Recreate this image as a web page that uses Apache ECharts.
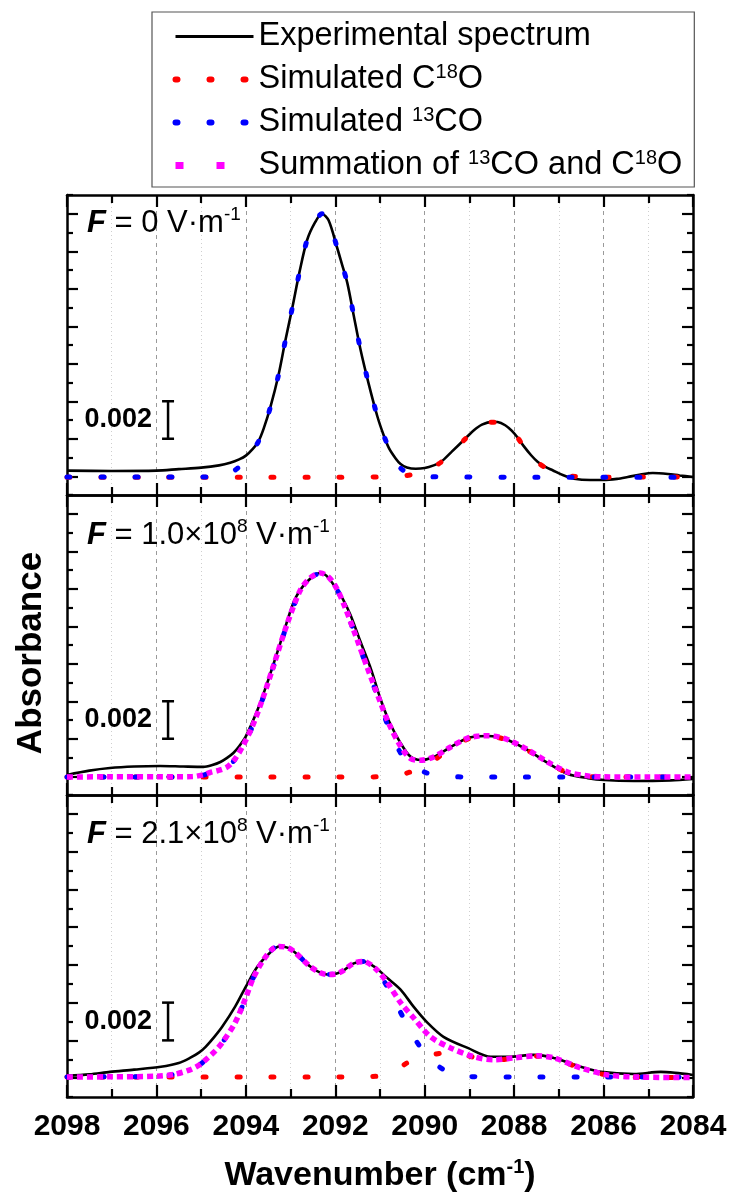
<!DOCTYPE html>
<html><head><meta charset="utf-8">
<script src="https://cdn.jsdelivr.net/npm/echarts@6/dist/echarts.min.js"></script>
<style>html,body{margin:0;padding:0;background:#fff}#c{width:733px;height:1197px}</style>
</head><body><div id="c"></div>
<script>
// ---------- DATA (wavenumber cm-1, absorbance in units of 1e-3) ----------
const xTicks = [2098, 2096, 2094, 2092, 2090, 2088, 2086, 2084];
const seriesNames = ['Experimental spectrum', 'Simulated C18O', 'Simulated 13CO', 'Summation of 13CO and C18O'];
const fieldLabels = [
  {mant: '0', exp: null},
  {mant: '1.0×10', exp: '8'},
  {mant: '2.1×10', exp: '8'}
];
const scaleBarValue = 2; // 0.002 absorbance

// Panel 1 (F = 0)
const exp1 = [[2098,1.30],[2097,1.28],[2096,1.30],[2095.5,1.38],[2095,1.46],[2094.6,1.58],[2094.35,1.72],[2094.15,1.9],[2094.0,2.1],[2093.85,2.45],[2093.72,2.85],[2093.6,3.55],[2093.45,4.7],[2093.27,6.4],[2093.12,8.2],[2092.96,10.0],[2092.8,11.9],[2092.63,13.6],[2092.45,14.55],[2092.3,15.0],[2092.15,14.65],[2091.96,13.2],[2091.85,12.3],[2091.73,11.3],[2091.59,9.6],[2091.44,7.8],[2091.25,5.9],[2091.06,4.2],[2090.92,3.2],[2090.8,2.5],[2090.65,1.95],[2090.54,1.65],[2090.4,1.47],[2090.2,1.4],[2090.0,1.44],[2089.8,1.58],[2089.64,1.76],[2089.4,2.3],[2089.08,3.04],[2088.9,3.45],[2088.72,3.75],[2088.5,3.9],[2088.37,3.89],[2088.2,3.72],[2088.05,3.42],[2087.9,3.0],[2087.79,2.62],[2087.62,2.12],[2087.47,1.76],[2087.3,1.5],[2087.14,1.32],[2086.9,1.05],[2086.66,0.87],[2086.3,0.8],[2086.0,0.8],[2085.7,0.86],[2085.46,0.96],[2085.2,1.08],[2084.9,1.17],[2084.56,1.12],[2084.3,1.04],[2084.0,0.96]];
const red1 = [[2098,0.95],[2096,0.95],[2094,0.95],[2092,0.95],[2091,0.96],[2090.6,0.99],[2090.3,1.08],[2090.0,1.25],[2089.8,1.5],[2089.64,1.74],[2089.4,2.28],[2089.08,3.02],[2088.9,3.43],[2088.72,3.73],[2088.5,3.88],[2088.37,3.88],[2088.2,3.7],[2088.05,3.4],[2087.9,2.98],[2087.79,2.6],[2087.62,2.1],[2087.47,1.74],[2087.3,1.45],[2087.14,1.25],[2086.9,1.06],[2086.6,0.98],[2086,0.95],[2085,0.96],[2084,0.95]];
const blue1 = [[2098,0.96],[2097,0.96],[2096,0.96],[2095,0.96],[2094.6,0.98],[2094.42,1.1],[2094.24,1.33],[2094.1,1.6],[2094.0,1.85],[2093.85,2.35],[2093.72,2.85],[2093.6,3.55],[2093.45,4.7],[2093.27,6.4],[2093.12,8.2],[2092.96,10.0],[2092.8,11.9],[2092.63,13.6],[2092.45,14.55],[2092.3,15.0],[2092.15,14.65],[2091.96,13.2],[2091.85,12.3],[2091.73,11.3],[2091.59,9.6],[2091.44,7.8],[2091.25,5.9],[2091.06,4.2],[2090.92,3.2],[2090.8,2.5],[2090.65,1.75],[2090.5,1.35],[2090.3,1.12],[2090.15,1.04],[2090.0,1.0],[2089.8,0.97],[2089.5,0.96],[2088,0.95],[2086,0.95],[2084,0.95]];

// Panel 2 (F = 1.0e8)
const exp2 = [[2098,1.07],[2097.5,1.3],[2097.04,1.44],[2096.5,1.52],[2095.92,1.55],[2095.4,1.52],[2094.95,1.5],[2094.75,1.6],[2094.57,1.76],[2094.42,1.98],[2094.28,2.24],[2094.15,2.6],[2094.01,3.09],[2093.88,3.75],[2093.74,4.53],[2093.5,6.13],[2093.23,8.1],[2092.94,10.24],[2092.78,10.95],[2092.62,11.4],[2092.45,11.75],[2092.33,11.84],[2092.2,11.7],[2092.0,11.09],[2091.83,10.45],[2091.66,9.6],[2091.44,8.2],[2091.2,6.7],[2091.0,5.2],[2090.8,3.95],[2090.54,2.77],[2090.32,2.05],[2090.09,1.87],[2089.8,2.03],[2089.42,2.56],[2089.04,3.04],[2088.8,3.13],[2088.59,3.15],[2088.35,3.08],[2088.14,2.93],[2087.7,2.4],[2087.25,1.71],[2086.8,1.12],[2086.35,0.9],[2085.99,0.8],[2085.32,0.75],[2084.5,0.78],[2084.0,0.85]];
const red2 = [[2098,0.96],[2094,0.96],[2092,0.96],[2091,0.97],[2090.6,1.05],[2090.32,1.23],[2090.0,1.55],[2089.7,2.0],[2089.42,2.5],[2089.04,2.98],[2088.8,3.1],[2088.59,3.12],[2088.35,3.06],[2088.14,2.9],[2087.7,2.38],[2087.25,1.73],[2086.8,1.18],[2086.35,0.99],[2085.99,0.96],[2084,0.96]];
const blue2 = [[2098,0.96],[2096,0.96],[2095.2,0.97],[2094.95,1.06],[2094.8,1.18],[2094.6,1.3],[2094.42,1.47],[2094.25,1.88],[2094.08,2.54],[2093.86,3.61],[2093.61,5.21],[2093.39,6.81],[2093.07,9.15],[2092.78,10.91],[2092.55,11.58],[2092.33,11.82],[2092.12,11.53],[2091.95,10.91],[2091.78,9.98],[2091.59,8.78],[2091.3,6.85],[2091.0,4.9],[2090.8,3.55],[2090.54,2.24],[2090.3,1.6],[2090.0,1.22],[2089.8,1.07],[2089.5,0.99],[2089,0.96],[2088,0.96],[2086,0.96],[2084,0.96]];
const sum2 = [[2098,0.96],[2097,0.97],[2096,0.97],[2095.2,0.98],[2094.95,1.08],[2094.8,1.2],[2094.6,1.32],[2094.42,1.49],[2094.25,1.9],[2094.08,2.56],[2093.86,3.63],[2093.61,5.23],[2093.39,6.83],[2093.07,9.17],[2092.78,10.93],[2092.55,11.6],[2092.33,11.84],[2092.12,11.55],[2091.95,10.93],[2091.78,10.0],[2091.59,8.8],[2091.3,6.9],[2091.0,5.0],[2090.8,3.8],[2090.54,2.6],[2090.32,1.95],[2090.09,1.85],[2089.8,2.03],[2089.42,2.56],[2089.04,3.04],[2088.8,3.14],[2088.59,3.16],[2088.35,3.1],[2088.14,2.95],[2087.7,2.42],[2087.25,1.76],[2086.8,1.22],[2086.35,1.02],[2085.99,0.97],[2085,0.96],[2084,0.96]];

// Panel 3 (F = 2.1e8)
const exp3 = [[2098,1.12],[2097.5,1.2],[2097.04,1.33],[2096.5,1.45],[2095.9,1.6],[2095.5,1.8],[2095.25,2.07],[2095.05,2.35],[2094.9,2.66],[2094.7,3.2],[2094.53,3.72],[2094.24,4.79],[2094.0,5.85],[2093.74,6.91],[2093.5,7.55],[2093.25,7.98],[2093.05,7.9],[2092.9,7.66],[2092.56,6.91],[2092.35,6.6],[2092.18,6.49],[2092.0,6.52],[2091.85,6.65],[2091.6,7.07],[2091.37,7.18],[2091.1,6.86],[2090.85,6.33],[2090.54,5.69],[2090.25,4.79],[2089.94,3.94],[2089.58,3.19],[2089.04,2.6],[2088.52,2.13],[2088.14,2.13],[2087.56,2.23],[2087.11,2.07],[2086.51,1.6],[2086.06,1.33],[2085.32,1.22],[2084.72,1.33],[2084.4,1.28],[2084.0,1.17]];
const red3 = [[2098,1.06],[2094,1.06],[2092,1.06],[2091.2,1.08],[2090.8,1.2],[2090.6,1.45],[2090.39,1.81],[2090.0,2.15],[2089.6,2.34],[2089.42,2.44],[2088.9,2.1],[2088.46,1.95],[2088.0,2.05],[2087.47,2.16],[2087.11,2.05],[2086.51,1.52],[2085.9,1.15],[2085.32,1.05],[2084,1.03]];
const blue3 = [[2098,1.06],[2097,1.07],[2096,1.1],[2095.6,1.2],[2095.25,1.44],[2095.05,1.68],[2094.9,1.97],[2094.7,2.4],[2094.53,2.87],[2094.24,3.94],[2094.0,5.27],[2093.83,6.33],[2093.6,7.29],[2093.4,7.85],[2093.25,7.98],[2093.05,7.9],[2092.9,7.66],[2092.56,6.91],[2092.35,6.6],[2092.18,6.49],[2092.0,6.52],[2091.85,6.65],[2091.6,7.07],[2091.37,7.18],[2091.1,6.75],[2090.85,5.9],[2090.6,4.75],[2090.43,3.99],[2090.25,3.2],[2090.05,2.5],[2089.7,1.65],[2089.38,1.22],[2089.0,1.08],[2088,1.06],[2086,1.06],[2084,1.05]];
const sum3 = [[2098,1.06],[2097,1.07],[2096,1.1],[2095.6,1.2],[2095.25,1.44],[2095.05,1.68],[2094.9,1.97],[2094.7,2.4],[2094.53,2.87],[2094.24,3.94],[2094.0,5.27],[2093.83,6.33],[2093.6,7.29],[2093.4,7.85],[2093.25,7.98],[2093.05,7.9],[2092.9,7.66],[2092.56,6.91],[2092.35,6.6],[2092.18,6.49],[2092.0,6.52],[2091.85,6.65],[2091.6,7.07],[2091.37,7.18],[2091.1,6.8],[2090.85,6.1],[2090.54,5.0],[2090.25,4.2],[2089.87,3.19],[2089.42,2.6],[2088.9,2.13],[2088.46,1.97],[2088.0,2.07],[2087.47,2.18],[2087.11,2.07],[2086.51,1.54],[2085.9,1.17],[2085.32,1.06],[2084.0,1.03]];

const panels = [
  {exp: exp1, red: red1, blue: blue1, sum: null},
  {exp: exp2, red: red2, blue: blue2, sum: sum2},
  {exp: exp3, red: red3, blue: blue3, sum: sum3}
];

// ---------- LAYOUT / STYLE ----------
const FONT = '"Liberation Sans", Arial, sans-serif';
const gridTops = [195, 495, 795];
const gridHeights = [300, 300, 302];
const labelTops = [205, 517, 816];
const scaleBarWn = 2095.74, scaleBarBase = 3;
const COLORS = {exp: '#000000', red: '#ff0000', blue: '#0000ff', sum: '#ff00ff'};

const chart = echarts.init(document.getElementById('c'), null, {renderer: 'canvas'});

const grids = [], xAxes = [], yAxes = [], series = [];
for (let i = 0; i < 3; i++) {
  grids.push({left: 67, width: 626, top: gridTops[i], height: gridHeights[i], containLabel: false});
  const axLine = {show: true, onZero: false, lineStyle: {color: '#000', width: 2.5}};
  const isBottom = i === 2;
  const baseX = {
    type: 'value', gridIndex: i, min: 2084, max: 2098, interval: 2, inverse: true,
    axisLine: axLine,
    axisTick: {show: true, inside: true, length: 12, lineStyle: {color: '#000', width: 2.2}},
    minorTick: {show: true, splitNumber: 2, length: 8, lineStyle: {color: '#000', width: 2.2}}
  };
  xAxes.push(Object.assign({}, baseX, {
    position: 'bottom',
    axisLabel: {show: isBottom, margin: 15, fontSize: 30, fontWeight: 'bold', color: '#000', fontFamily: FONT,
      formatter: v => xTicks.includes(v) ? String(v) : ''},
    splitLine: {show: true, lineStyle: {color: '#9a9a9a', width: 1, type: [4, 4]}},
    minorSplitLine: {show: true, lineStyle: {color: '#cfcfcf', width: 1, type: [1, 3]}},
    name: isBottom ? '{t|Wavenumber (cm}{s|-1}{t|)}' : '',
    nameLocation: 'middle', nameGap: 60,
    nameTextStyle: {rich: {
      t: {fontSize: 34, fontWeight: 'bold', fontFamily: FONT, color: '#000', lineHeight: 38},
      s: {fontSize: 20, fontWeight: 'bold', fontFamily: FONT, color: '#000', lineHeight: 18, verticalAlign: 'top'}
    }}
  }));
  xAxes.push(Object.assign({}, baseX, {
    position: 'top', axisLabel: {show: false}, splitLine: {show: false}, minorSplitLine: {show: false}
  }));
  const baseY = {
    type: 'value', gridIndex: i, min: 0, max: 16, interval: 2,
    axisLine: axLine,
    axisTick: {show: true, inside: true, length: 6, lineStyle: {color: '#000', width: 2.2}},
    minorTick: {show: true, splitNumber: 2, length: 11, lineStyle: {color: '#000', width: 2.2}},
    axisLabel: {show: false}, splitLine: {show: false}
  };
  yAxes.push(Object.assign({}, baseY, {
    position: 'left',
    name: i === 1 ? 'Absorbance' : '', nameLocation: 'middle', nameGap: 18,
    nameTextStyle: {fontSize: 35, fontWeight: 'bold', fontFamily: FONT, color: '#000', padding: [0, 16, 0, 0]}
  }));
  yAxes.push(Object.assign({}, baseY, {position: 'right'}));

  const common = {type: 'line', xAxisIndex: 2 * i, yAxisIndex: 2 * i, symbol: 'none', showSymbol: false,
    smooth: 0.3, silent: true, animation: false};
  const p = panels[i];
  series.push(Object.assign({}, common, {name: seriesNames[0], data: p.exp, z: 2,
    lineStyle: {color: COLORS.exp, width: 2.6}, itemStyle: {color: COLORS.exp}}));
  series.push(Object.assign({}, common, {name: seriesNames[1], data: p.red, z: 3,
    lineStyle: {color: COLORS.red, width: 5, type: [3, 31], cap: 'round'}, itemStyle: {color: COLORS.red}}));
  series.push(Object.assign({}, common, {name: seriesNames[2], data: p.blue, z: 4,
    lineStyle: {color: COLORS.blue, width: 5, type: [3, 31], cap: 'round'}, itemStyle: {color: COLORS.blue}}));
  if (p.sum) {
    series.push(Object.assign({}, common, {name: seriesNames[3], data: p.sum, z: 5,
      lineStyle: {color: COLORS.sum, width: 5.5, type: [6, 4]}, itemStyle: {color: COLORS.sum}}));
  }
  // scale bar (0.002)
  series.push({
    type: 'custom', xAxisIndex: 2 * i, yAxisIndex: 2 * i, silent: true, z: 10, animation: false,
    data: [[scaleBarWn, scaleBarBase, scaleBarBase + scaleBarValue]],
    renderItem: (params, api) => {
      const a = api.coord([api.value(0), api.value(1)]);
      const b = api.coord([api.value(0), api.value(2)]);
      const st = {stroke: '#000', lineWidth: 2.5};
      return {type: 'group', children: [
        {type: 'line', shape: {x1: a[0], y1: a[1], x2: b[0], y2: b[1]}, style: st},
        {type: 'line', shape: {x1: a[0] - 6, y1: a[1], x2: a[0] + 6, y2: a[1]}, style: st},
        {type: 'line', shape: {x1: b[0] - 6, y1: b[1], x2: b[0] + 6, y2: b[1]}, style: st},
        {type: 'text', style: {text: (scaleBarValue / 1000).toFixed(3), x: a[0] - 16, y: (a[1] + b[1]) / 2,
          align: 'right', verticalAlign: 'middle', font: 'bold 27px ' + FONT, fill: '#000'}}
      ]};
    }
  });
}

const legendRich = {
  n: {fontSize: 32.5, fontFamily: FONT, color: '#000', lineHeight: 35},
  s: {fontSize: 20, fontFamily: FONT, color: '#000', lineHeight: 16, verticalAlign: 'top'}
};
const legendFmt = {
  'Experimental spectrum': '{n|Experimental spectrum}',
  'Simulated C18O': '{n|Simulated C}{s|18}{n|O}',
  'Simulated 13CO': '{n|Simulated }{s|13}{n|CO}',
  'Summation of 13CO and C18O': '{n|Summation of }{s|13}{n|CO and C}{s|18}{n|O}'
};
const legendLine = [
  {color: COLORS.exp, width: 3, type: 'solid'},
  {color: COLORS.red, width: 6, type: [2, 32], cap: 'round'},
  {color: COLORS.blue, width: 6, type: [2, 32], cap: 'round'},
  {color: COLORS.sum, width: 7, type: [8, 33], cap: 'butt'}
];

const fieldRich = {
  f: {fontSize: 31, fontWeight: 'bold', fontStyle: 'italic', fontFamily: FONT, fill: '#000', lineHeight: 36},
  n: {fontSize: 31, fontFamily: FONT, fill: '#000', lineHeight: 36},
  s: {fontSize: 19, fontFamily: FONT, fill: '#000', lineHeight: 16, verticalAlign: 'top'}
};
const graphics = fieldLabels.map((fl, i) => ({
  type: 'text', x: 87, y: labelTops[i], silent: true, z: 20,
  style: {
    text: '{f|F}{n| = ' + fl.mant + '}' + (fl.exp ? '{s|' + fl.exp + '}' : '') + '{n| V·m}{s|-1}',
    rich: fieldRich, verticalAlign: 'top', align: 'left', fill: '#000'
  }
}));

chart.setOption({
  backgroundColor: '#fff',
  animation: false,
  grid: grids, xAxis: xAxes, yAxis: yAxes, series: series,
  legend: {
    data: seriesNames.map((n, k) => ({name: n, lineStyle: legendLine[k], itemStyle: {opacity: 0}})),
    orient: 'vertical', left: 152, top: 12,
    itemWidth: 78, itemHeight: 14, itemGap: 9,
    padding: [8, 12, 5, 20],
    borderColor: '#555', borderWidth: 1.2, backgroundColor: '#fff',
    selectedMode: false,
    itemStyle: {opacity: 0},
    formatter: name => legendFmt[name],
    textStyle: {rich: legendRich, width: 428}
  },
  graphic: graphics
});
</script>
</body></html>
